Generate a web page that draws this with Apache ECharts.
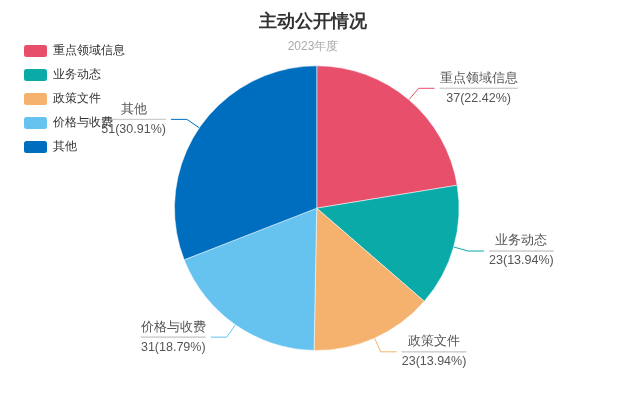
<!DOCTYPE html>
<html>
<head>
<meta charset="utf-8">
<script src="https://cdn.jsdelivr.net/npm/echarts@6/dist/echarts.min.js"></script>
<style>
  html, body { margin: 0; padding: 0; background: #fff; }
  #main { width: 626px; height: 398px; }
</style>
</head>
<body>
<div id="main"></div>
<script>
const categories = ["重点领域信息", "业务动态", "政策文件", "价格与收费", "其他"];
const counts = [37, 23, 23, 31, 51];
const colors = ["#E84F6B", "#0AAAA9", "#F5B26E", "#66C3F0", "#006EBE"];

const myChart = echarts.init(document.querySelector("#main"));
const options = {
  color: colors,
  title: {
    text: "主动公开情况",
    subtext: "2023年度",
    left: "center",
    top: 8,
    itemGap: 10,
    textStyle: { fontSize: 18, fontWeight: "bold", color: "#333" },
    subtextStyle: { fontSize: 12, color: "#aaa" }
  },
  legend: {
    orient: "vertical",
    left: 17,
    top: 38,
    itemWidth: 25,
    itemHeight: 14,
    itemGap: 8,
    textStyle: { fontSize: 12, color: "#333" },
    data: categories
  },
  series: [
    {
      type: "pie",
      center: ["50.6%", "52.3%"],
      radius: "71.5%",
      startAngle: 90,
      data: categories.map((name, i) => ({ name: name, value: counts[i] })),
      itemStyle: { borderColor: "#fff", borderWidth: 0.5 },
      label: {
        formatter: "{b|{b}}\n{hr|}\n{per|{c}({d}%)}",
        color: "#555",
        rich: {
          b: { fontSize: 12.5, color: "#555", lineHeight: 20, align: "center" },
          hr: { borderColor: "#ccc", width: "100%", borderWidth: 1, height: 0 },
          per: { fontSize: 12.5, color: "#555", lineHeight: 20, align: "center" }
        }
      },
      labelLine: { length: 15, length2: 16 }
    }
  ]
};
myChart.setOption(options);
window.onresize = function() {
  myChart.resize();
};
</script>
</body>
</html>
